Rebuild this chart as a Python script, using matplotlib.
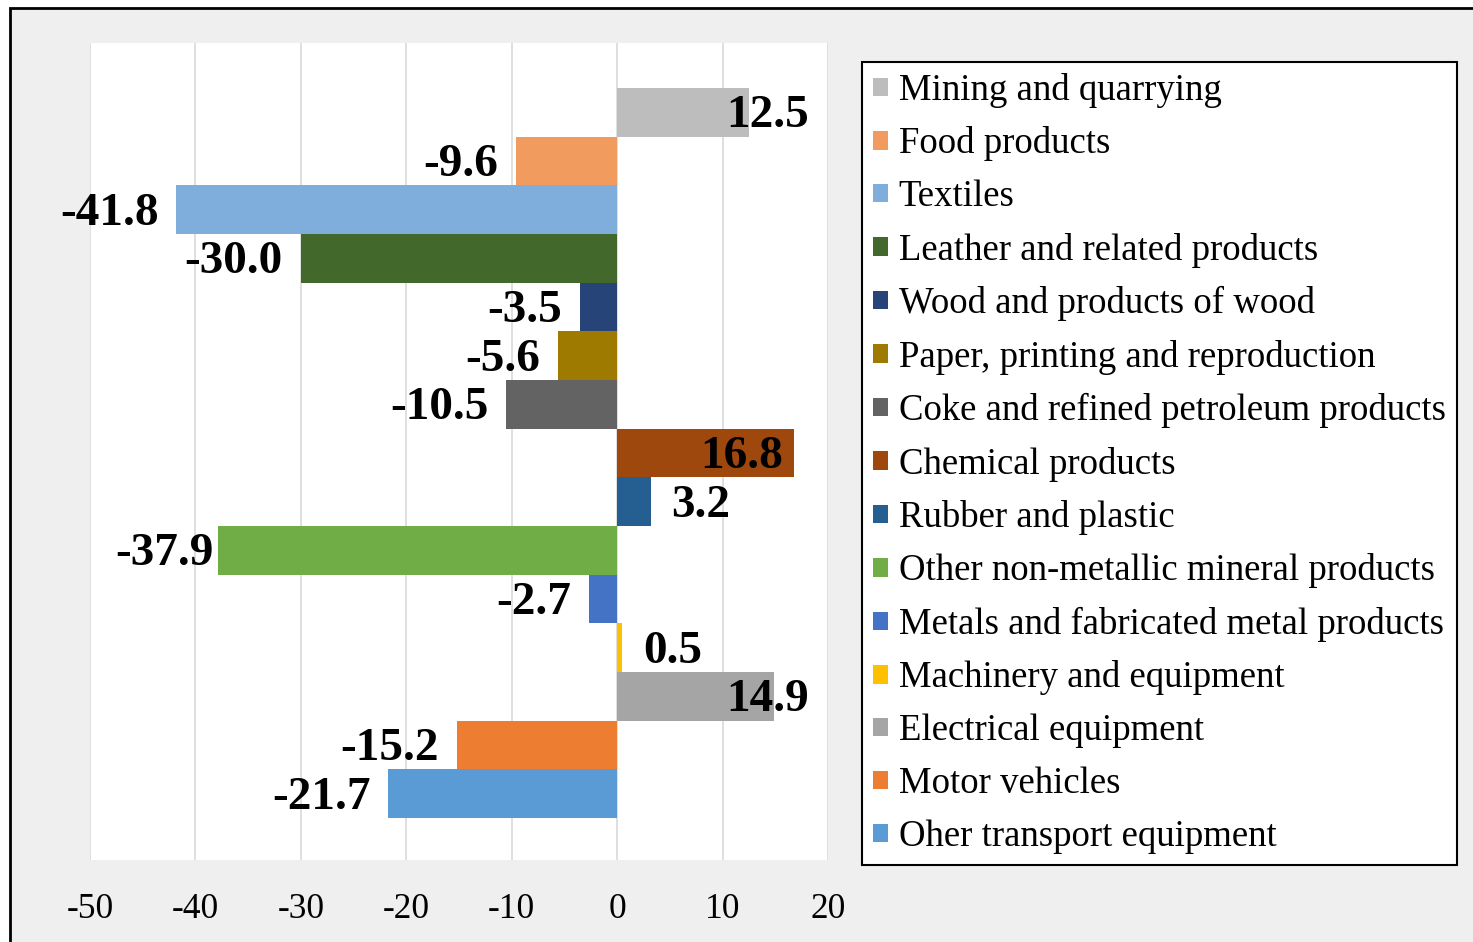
import matplotlib
matplotlib.use("Agg")
import matplotlib.pyplot as plt
from matplotlib.patches import Rectangle, Patch

categories = ["Mining and quarrying", "Food products", "Textiles",
              "Leather and related products", "Wood and products of wood",
              "Paper, printing and reproduction",
              "Coke and refined petroleum products", "Chemical products",
              "Rubber and plastic", "Other non-metallic mineral products",
              "Metals and fabricated metal products",
              "Machinery and equipment", "Electrical equipment",
              "Motor vehicles", "Oher transport equipment"]
values = [12.5, -9.6, -41.8, -30.0, -3.5, -5.6, -10.5, 16.8, 3.2, -37.9,
          -2.7, 0.5, 14.9, -15.2, -21.7]
colors = ["#BDBDBD", "#F29B5E", "#7FAEDD", "#43682B", "#264478", "#9E7B00",
          "#636363", "#9E480E", "#255E91", "#70AD47", "#4472C4", "#FFC000",
          "#A5A5A5", "#ED7D31", "#5B9BD5"]
xticks = [-50, -40, -30, -20, -10, 0, 10, 20]

# label placement (pixel offsets, alignment)
label_offsets = [60, -18, -18, -18, -18, -18, -18, -11, 20, -4, -18, 21, 35, -18, -18]
label_ha = ["right", "right", "right", "right", "right", "right", "right",
            "right", "left", "right", "right", "left", "right", "right", "right"]

W, H = 1473, 942
fig = plt.figure(figsize=(W / 100, H / 100), dpi=100)
fig.patch.set_facecolor("white")

# outer chart area
fig.add_artist(Rectangle((10 / W, -0.05), 1.1, 1 - 8 / H + 0.05,
                         transform=fig.transFigure, facecolor="#EFEFEF",
                         edgecolor="black", linewidth=2, zorder=0))

ax = fig.add_axes([90 / W, 82 / H, (828 - 90) / W, (899 - 82) / H])
ax.set_facecolor("white")
for s in ax.spines.values():
    s.set_visible(False)

ypos = list(range(len(values)))
ax.barh(ypos, values, height=1.0, color=colors, zorder=2)
ax.set_xlim(-50, 20)
ax.set_ylim(15.36, -1.425)
ax.set_yticks([])
ax.set_xticks(xticks)
ax.set_xticklabels([str(t) for t in xticks], family="Liberation Serif", fontsize=25.5)
ax.tick_params(axis="x", length=0, pad=24)
ax.grid(axis="x", color="#D9D9D9", linewidth=1.2, zorder=0)
ax.set_axisbelow(True)

for i, v in enumerate(values):
    ax.annotate(f"{v:.1f}", xy=(v, i), xytext=(label_offsets[i], -4),
                textcoords="offset pixels", ha=label_ha[i], va="center",
                family="Liberation Serif", fontweight="bold", fontsize=34,
                zorder=3)

handles = [Patch(facecolor=c, edgecolor="none") for c in colors]
leg = fig.legend(handles, categories, loc="upper left",
                 bbox_to_anchor=(862 / W, 1 - 62 / H), borderaxespad=0,
                 prop={"family": "Liberation Serif", "size": 26.5},
                 frameon=True, fancybox=False, edgecolor="black",
                 framealpha=1, facecolor="white", borderpad=0.3,
                 labelspacing=0.5, handlelength=0.4, handleheight=0.4,
                 handletextpad=0.3)
leg.get_frame().set_linewidth(1.5)

fig.savefig("out.png", dpi=100)
